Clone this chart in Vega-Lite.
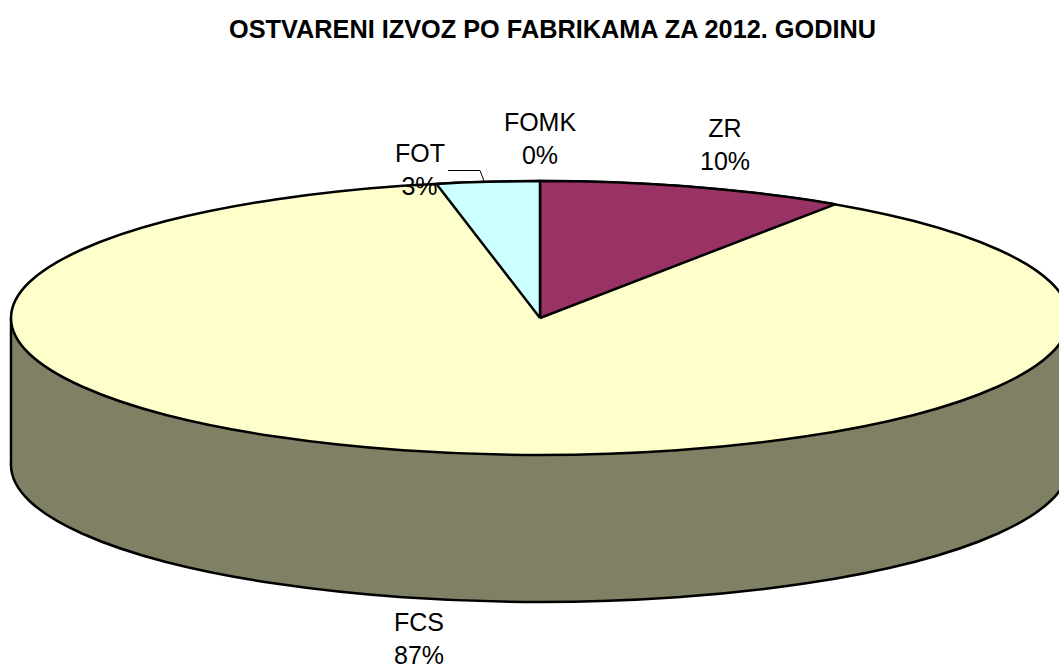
{"$schema":"https://vega.github.io/schema/vega-lite/v6.json","width":1059,"height":669,"padding":0,"autosize":"none","background":"white","view":{"stroke":null},
"encoding":{"x":{"field":"x","type":"quantitative","scale":{"domain":[0,1059],"nice":false,"zero":false},"axis":null},"y":{"field":"y","type":"quantitative","scale":{"domain":[669,0],"nice":false,"zero":false},"axis":null}},
"datasets":{
"ellipse":[{"o":0,"x":1069,"y":318},{"o":1,"x":1051,"y":353.5},{"o":2,"x":998,"y":386.5},{"o":3,"x":914,"y":415},{"o":4,"x":804.5,"y":436.6},{"o":5,"x":677,"y":450.3},{"o":6,"x":540,"y":455},{"o":7,"x":403,"y":450.3},{"o":8,"x":275.5,"y":436.6},{"o":9,"x":166,"y":415},{"o":10,"x":82,"y":386.5},{"o":11,"x":29,"y":353.5},{"o":12,"x":11,"y":318},{"o":13,"x":29,"y":282.5},{"o":14,"x":82,"y":249.5},{"o":15,"x":166,"y":221},{"o":16,"x":275.5,"y":199.4},{"o":17,"x":403,"y":185.7},{"o":18,"x":540,"y":181},{"o":19,"x":677,"y":185.7},{"o":20,"x":804.5,"y":199.4},{"o":21,"x":914,"y":221},{"o":22,"x":998,"y":249.5},{"o":23,"x":1051,"y":282.5}],
"bottom":[{"o":0,"x":1069,"y":465},{"o":1,"x":1051,"y":500.5},{"o":2,"x":998,"y":533.5},{"o":3,"x":914,"y":562},{"o":4,"x":804.5,"y":583.6},{"o":5,"x":677,"y":597.3},{"o":6,"x":540,"y":602},{"o":7,"x":403,"y":597.3},{"o":8,"x":275.5,"y":583.6},{"o":9,"x":166,"y":562},{"o":10,"x":82,"y":533.5},{"o":11,"x":29,"y":500.5},{"o":12,"x":11,"y":465},{"o":13,"x":29,"y":429.5},{"o":14,"x":82,"y":396.5},{"o":15,"x":166,"y":368},{"o":16,"x":275.5,"y":346.4},{"o":17,"x":403,"y":332.7},{"o":18,"x":540,"y":328},{"o":19,"x":677,"y":332.7},{"o":20,"x":804.5,"y":346.4},{"o":21,"x":914,"y":368},{"o":22,"x":998,"y":396.5},{"o":23,"x":1051,"y":429.5}],
"zr":[{"o":0,"x":540,"y":318},{"o":1,"x":540,"y":181},{"o":2,"x":577,"y":181.3},{"o":3,"x":614,"y":182.35},{"o":4,"x":650,"y":184},{"o":5,"x":686,"y":186.3},{"o":6,"x":722,"y":189.4},{"o":7,"x":757,"y":193.1},{"o":8,"x":790,"y":197.3},{"o":9,"x":813,"y":200.6},{"o":10,"x":835,"y":204.3},{"o":11,"x":540,"y":318}],
"fot":[{"o":0,"x":540,"y":318},{"o":1,"x":436.5,"y":184},{"o":2,"x":462,"y":182.5},{"o":3,"x":488,"y":181.7},{"o":4,"x":540,"y":181},{"o":5,"x":540,"y":318}],
"leader":[{"o":0,"x":448,"y":170.5},{"o":1,"x":480,"y":170.5},{"o":2,"x":484,"y":181}],
"labels":[
{"t":"FOMK","x":540,"y":123},{"t":"0%","x":540,"y":156},
{"t":"ZR","x":725,"y":129},{"t":"10%","x":725,"y":162},
{"t":"FOT","x":420,"y":154},{"t":"3%","x":419.5,"y":187},
{"t":"FCS","x":419,"y":623},{"t":"87%","x":419,"y":656}],
"heading":[{"t":"OSTVARENI IZVOZ PO FABRIKAMA ZA 2012. GODINU","x":552.5,"y":30}]
},
"layer":[
{"data":{"name":"bottom"},"mark":{"type":"line","interpolate":"cardinal-closed","fill":"#808064","stroke":"#000","strokeWidth":2.5},"encoding":{"order":{"field":"o"}}},
{"data":{"values":[{"x":11,"x2":1069,"y":318,"y2":465}]},"mark":{"type":"rect","fill":"#808064"},"encoding":{"x2":{"field":"x2"},"y2":{"field":"y2"}}},
{"data":{"values":[{"x":11,"y":318,"y2":465},{"x":1069,"y":318,"y2":465}]},"mark":{"type":"rule","stroke":"#000","strokeWidth":2.5},"encoding":{"y2":{"field":"y2"}}},
{"data":{"name":"ellipse"},"mark":{"type":"line","interpolate":"cardinal-closed","fill":"#FFFFCC","stroke":"#000","strokeWidth":2.5},"encoding":{"order":{"field":"o"}}},
{"data":{"name":"zr"},"mark":{"type":"line","fill":"#993366","stroke":"#000","strokeWidth":2.5,"strokeJoin":"round"},"encoding":{"order":{"field":"o"}}},
{"data":{"name":"fot"},"mark":{"type":"line","fill":"#CCFFFF","stroke":"#000","strokeWidth":2.5,"strokeJoin":"round"},"encoding":{"order":{"field":"o"}}},
{"data":{"name":"leader"},"mark":{"type":"line","stroke":"#000","strokeWidth":1},"encoding":{"order":{"field":"o"}}},
{"data":{"name":"labels"},"mark":{"type":"text","font":"Liberation Sans","fontSize":25,"align":"center","baseline":"middle","color":"#000"},"encoding":{"text":{"field":"t"}}},
{"data":{"name":"heading"},"mark":{"type":"text","font":"Liberation Sans","fontSize":25.3,"fontWeight":"bold","align":"center","baseline":"middle","color":"#000"},"encoding":{"text":{"field":"t"}}}
]}
